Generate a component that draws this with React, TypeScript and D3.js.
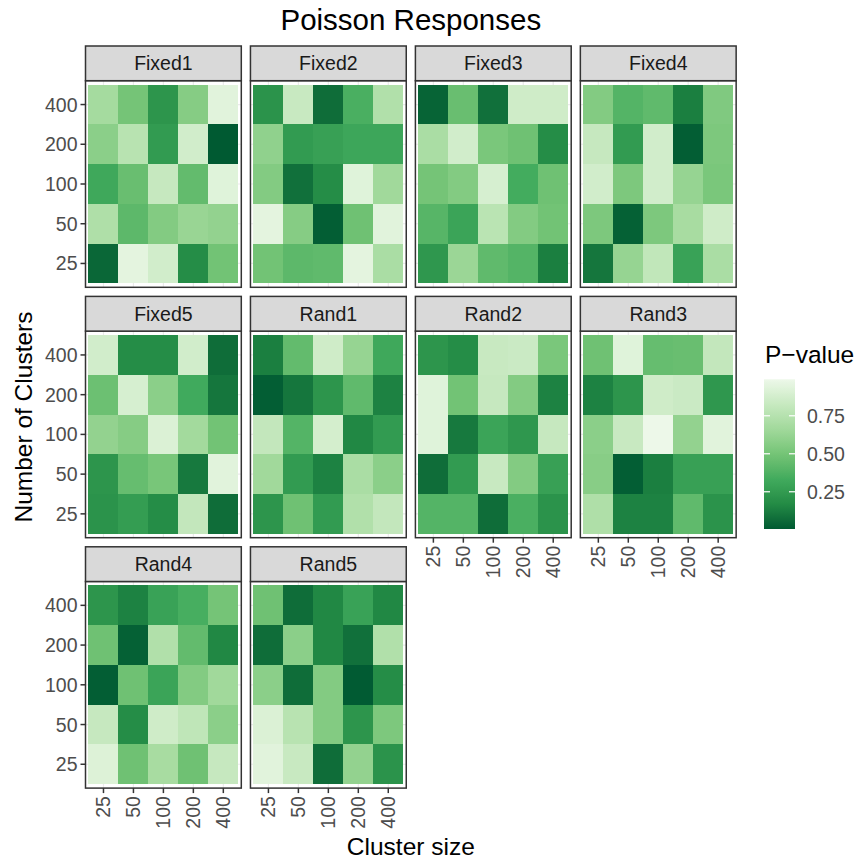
import React from "react";
import * as d3 from "d3";

const panels = ["Fixed1", "Fixed2", "Fixed3", "Fixed4", "Fixed5", "Rand1", "Rand2", "Rand3", "Rand4", "Rand5"];
const clusterSize = ["25", "50", "100", "200", "400"];
// rows listed top to bottom
const numClusters = ["400", "200", "100", "50", "25"];
const legendTicks = [0.25, 0.5, 0.75];

const fixed1 = [
  [0.68, 0.5, 0.22, 0.56, 0.94],
  [0.58, 0.76, 0.25, 0.87, 0.005],
  [0.32, 0.46, 0.82, 0.44, 0.93],
  [0.72, 0.42, 0.55, 0.63, 0.61],
  [0.05, 0.95, 0.87, 0.18, 0.49],
];
const fixed2 = [
  [0.21, 0.83, 0.07, 0.36, 0.73],
  [0.6, 0.25, 0.28, 0.31, 0.31],
  [0.55, 0.08, 0.18, 0.93, 0.66],
  [0.95, 0.56, 0.02, 0.48, 0.94],
  [0.49, 0.42, 0.43, 0.95, 0.7],
];
const fixed3 = [
  [0.04, 0.46, 0.08, 0.86, 0.86],
  [0.7, 0.87, 0.52, 0.48, 0.18],
  [0.5, 0.55, 0.89, 0.34, 0.48],
  [0.4, 0.3, 0.77, 0.55, 0.49],
  [0.23, 0.64, 0.43, 0.39, 0.13],
];
const fixed4 = [
  [0.55, 0.39, 0.43, 0.13, 0.54],
  [0.82, 0.25, 0.87, 0.02, 0.53],
  [0.87, 0.53, 0.87, 0.62, 0.52],
  [0.53, 0.03, 0.53, 0.69, 0.86],
  [0.1, 0.62, 0.8, 0.29, 0.7],
];
const fixed5 = [
  [0.87, 0.18, 0.18, 0.87, 0.07],
  [0.47, 0.89, 0.58, 0.33, 0.1],
  [0.61, 0.56, 0.91, 0.67, 0.49],
  [0.22, 0.45, 0.51, 0.11, 0.94],
  [0.21, 0.26, 0.18, 0.81, 0.07],
];
const rand1 = [
  [0.13, 0.44, 0.86, 0.62, 0.32],
  [0.02, 0.1, 0.22, 0.43, 0.14],
  [0.81, 0.39, 0.88, 0.16, 0.25],
  [0.66, 0.25, 0.14, 0.7, 0.58],
  [0.22, 0.48, 0.25, 0.73, 0.81],
];
const rand2 = [
  [0.22, 0.18, 0.83, 0.84, 0.52],
  [0.93, 0.49, 0.82, 0.55, 0.14],
  [0.93, 0.11, 0.3, 0.23, 0.82],
  [0.07, 0.25, 0.83, 0.55, 0.28],
  [0.39, 0.39, 0.07, 0.36, 0.21],
];
const rand3 = [
  [0.48, 0.93, 0.45, 0.46, 0.81],
  [0.14, 0.22, 0.86, 0.84, 0.23],
  [0.58, 0.83, 0.99, 0.61, 0.94],
  [0.57, 0.02, 0.13, 0.28, 0.28],
  [0.72, 0.14, 0.14, 0.43, 0.21],
];
const rand4 = [
  [0.22, 0.14, 0.29, 0.35, 0.5],
  [0.48, 0.03, 0.73, 0.44, 0.16],
  [0.02, 0.48, 0.3, 0.55, 0.66],
  [0.82, 0.18, 0.86, 0.79, 0.58],
  [0.92, 0.48, 0.69, 0.48, 0.82],
];
const rand5 = [
  [0.48, 0.07, 0.16, 0.29, 0.16],
  [0.07, 0.58, 0.16, 0.08, 0.73],
  [0.58, 0.07, 0.55, 0.01, 0.18],
  [0.91, 0.76, 0.55, 0.22, 0.53],
  [0.94, 0.83, 0.07, 0.61, 0.21],
];
const panelData = [fixed1, fixed2, fixed3, fixed4, fixed5, rand1, rand2, rand3, rand4, rand5];

const FONT = "'Liberation Sans', Arial, Helvetica, sans-serif";
const W = 860;
const H = 862;
const left0 = 85.5;
const colStep = 164.95;
const pw = 155.8;
const top0 = 46;
const rowStep = 250.4;
const stripH = 34.7;
const ph = 206.6;
const nCols = 4;

export default function App() {
  const allVals = panelData.flat(2);
  const [vmin, vmax] = d3.extent(allVals) as [number, number];
  const greens = (d3.schemeGreens[7] as string[]).slice().reverse();
  const color = d3
    .scaleLinear<string>()
    .domain(d3.range(7).map((i) => vmin + (i * (vmax - vmin)) / 6))
    .range(greens)
    .interpolate(d3.interpolateLab);

  const nPanels = panels.length;
  const hasBelow = (i: number) => i + nCols < nPanels;

  // legend
  const barX = 764;
  const barW = 31;
  const barTop = 379.3;
  const barBot = 529;
  const ly = d3.scaleLinear().domain([vmin, vmax]).range([barBot, barTop]);
  const stops = d3.range(0, 101).map((k) => {
    const v = vmax - (k / 100) * (vmax - vmin);
    return { off: k, c: color(v) };
  });

  const panelsRight = left0 + 3 * colStep + pw;
  const centerX = (left0 + panelsRight) / 2;
  const lastRowBottom = top0 + 2 * rowStep + stripH + ph;

  return (
    <svg
      width={W}
      height={H}
      viewBox={`0 0 ${W} ${H}`}
      style={{ position: "absolute", left: 0, top: 0, background: "#fff" }}
      fontFamily={FONT}
    >
      <rect x={0} y={0} width={W} height={H} fill="#fff" />
      <defs>
        <linearGradient id="pgrad" x1="0" y1="0" x2="0" y2="1">
          {stops.map((s) => (
            <stop key={s.off} offset={`${s.off}%`} stopColor={s.c} />
          ))}
        </linearGradient>
      </defs>
      <text x={centerX} y={30} textAnchor="middle" fontSize={29.5} fill="#000">
        Poisson Responses
      </text>

      {panels.map((name, i) => {
        const r = Math.floor(i / nCols);
        const c = i % nCols;
        const px = left0 + c * colStep;
        const sy = top0 + r * rowStep;
        const py = sy + stripH;
        const xs = d3.scaleLinear().domain([0.4, 5.6]).range([px, px + pw]);
        const ys = d3.scaleLinear().domain([0.4, 5.6]).range([py + ph, py]);
        const data = panelData[i];
        return (
          <g key={name}>
            <rect x={px} y={py} width={pw} height={ph} fill="#fff" />
            {clusterSize.map((_, k) => (
              <line key={"gx" + k} x1={xs(k + 1)} x2={xs(k + 1)} y1={py} y2={py + ph} stroke="#ebebeb" strokeWidth={1.2} />
            ))}
            {numClusters.map((_, k) => (
              <line key={"gy" + k} x1={px} x2={px + pw} y1={ys(k + 1)} y2={ys(k + 1)} stroke="#ebebeb" strokeWidth={1.2} />
            ))}
            {data.map((row, ri) =>
              row.map((v, ci) => {
                const yl = numClusters.length - ri; // level 1 = bottom
                const xl = ci + 1;
                return (
                  <rect
                    key={ri + "-" + ci}
                    x={xs(xl - 0.5)}
                    y={ys(yl + 0.5)}
                    width={xs(xl + 0.5) - xs(xl - 0.5)}
                    height={ys(yl - 0.5) - ys(yl + 0.5)}
                    fill={color(v)}
                    shapeRendering="crispEdges"
                  />
                );
              })
            )}
            <rect x={px} y={py} width={pw} height={ph} fill="none" stroke="#333333" strokeWidth={1.5} />
            <rect x={px} y={sy} width={pw} height={stripH} fill="#d9d9d9" stroke="#333333" strokeWidth={1.5} />
            <text x={px + pw / 2} y={sy + stripH / 2} textAnchor="middle" dominantBaseline="central" fontSize={19.5} fill="#1a1a1a">
              {name}
            </text>
            {c === 0 &&
              numClusters.map((lab, ri) => {
                const yy = ys(numClusters.length - ri);
                return (
                  <g key={"yl" + lab}>
                    <line x1={px - 5} x2={px} y1={yy} y2={yy} stroke="#333333" strokeWidth={1.5} />
                    <text x={px - 8} y={yy} textAnchor="end" dominantBaseline="central" fontSize={19.5} fill="#4d4d4d">
                      {lab}
                    </text>
                  </g>
                );
              })}
            {!hasBelow(i) &&
              clusterSize.map((lab, k) => {
                const xx = xs(k + 1);
                const yb = py + ph;
                return (
                  <g key={"xl" + lab}>
                    <line x1={xx} x2={xx} y1={yb} y2={yb + 5} stroke="#333333" strokeWidth={1.5} />
                    <text
                      transform={`translate(${xx},${yb + 8}) rotate(-90)`}
                      textAnchor="end"
                      dominantBaseline="central"
                      fontSize={19.5}
                      fill="#4d4d4d"
                    >
                      {lab}
                    </text>
                  </g>
                );
              })}
          </g>
        );
      })}

      <text
        transform={`translate(32,${(top0 + lastRowBottom) / 2}) rotate(-90)`}
        textAnchor="middle"
        fontSize={24.5}
        fill="#000"
      >
        Number of Clusters
      </text>
      <text x={centerX} y={855} textAnchor="middle" fontSize={24.5} fill="#000">
        Cluster size
      </text>

      <text x={765} y={363} fontSize={24.5} fill="#000">
        P−value
      </text>
      <rect x={barX} y={barTop} width={barW} height={barBot - barTop} fill="url(#pgrad)" />
      {legendTicks.map((t) => (
        <g key={t}>
          <line x1={barX} x2={barX + 6} y1={ly(t)} y2={ly(t)} stroke="#fff" strokeWidth={1.2} />
          <line x1={barX + barW - 6} x2={barX + barW} y1={ly(t)} y2={ly(t)} stroke="#fff" strokeWidth={1.2} />
          <text x={807} y={ly(t)} dominantBaseline="central" fontSize={19.5} fill="#4d4d4d">
            {t.toFixed(2)}
          </text>
        </g>
      ))}
    </svg>
  );
}
